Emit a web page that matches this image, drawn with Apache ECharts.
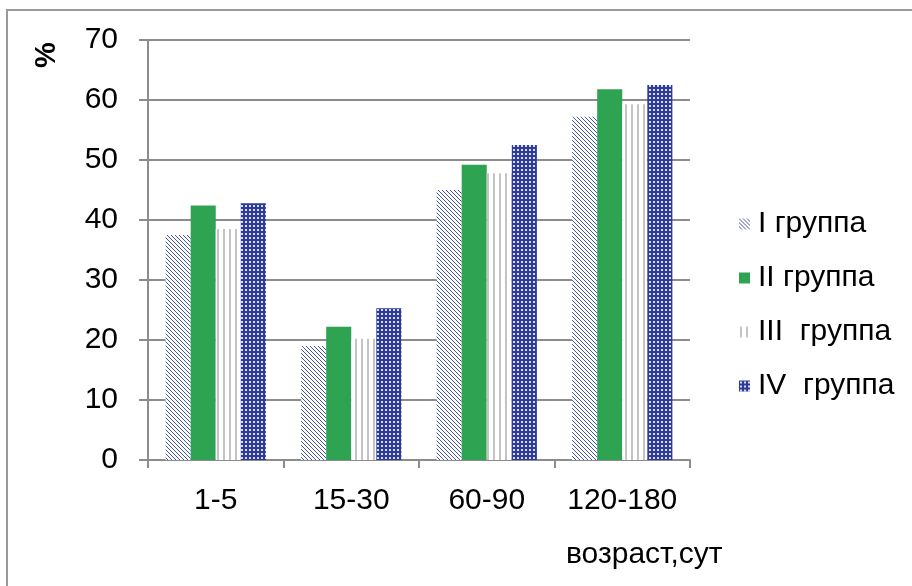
<!DOCTYPE html>
<html>
<head>
<meta charset="utf-8">
<script src="https://cdn.jsdelivr.net/npm/echarts@6/dist/echarts.min.js"></script>
<style>
  html, body { margin: 0; padding: 0; background: #fff; }
  #frame { position: absolute; left: 6px; top: 9px; width: 920px; height: 600px; border: 2px solid #9a9a9a; }
  #myChart { position: absolute; left: 0; top: 0; width: 912px; height: 586px; }
</style>
</head>
<body>
<div id="frame"></div>
<div id="myChart"></div>
<script>
// возраст, сут
const categories = ['1-5', '15-30', '60-90', '120-180']
const groupNames = ['I группа', 'II группа', 'III  группа', 'IV  группа']
const group1 = [37.5, 19.0, 45.0, 57.2]
const group2 = [42.4, 22.2, 49.2, 61.8]
const group3 = [38.5, 20.2, 47.8, 59.3]
const group4 = [42.8, 25.3, 52.5, 62.5]
const yTicks = [0, 10, 20, 30, 40, 50, 60, 70]
const xTitle = 'возраст,сут'
const yTitle = '%'

// узоры заливки
function hatchPattern () {
  const c = document.createElement('canvas')
  c.width = 4; c.height = 4
  const g = c.getContext('2d')
  g.fillStyle = '#fff'; g.fillRect(0, 0, 4, 4)
  g.fillStyle = '#4555ad'
  for (let i = 0; i < 4; i++) g.fillRect(i, i, 1, 1)
  return { image: c, repeat: 'repeat' }
}
function stripePattern () {
  const c = document.createElement('canvas')
  c.width = 6; c.height = 6
  const g = c.getContext('2d')
  g.fillStyle = '#fff'; g.fillRect(0, 0, 6, 6)
  g.fillStyle = '#c4c4c4'; g.fillRect(1, 0, 2, 6)
  return { image: c, repeat: 'repeat' }
}
function dotPattern () {
  const c = document.createElement('canvas')
  c.width = 4; c.height = 4
  const g = c.getContext('2d')
  g.fillStyle = '#2d3a9a'; g.fillRect(0, 0, 4, 4)
  g.fillStyle = '#d8dcf0'; g.fillRect(1, 1, 2, 2)
  return { image: c, repeat: 'repeat' }
}

const fills = [hatchPattern(), '#2ea452', stripePattern(), dotPattern()]
const seriesData = [group1, group2, group3, group4]

const font = 'Liberation Sans, Arial, sans-serif'
const chart = echarts.init(document.getElementById('myChart'))
chart.setOption({
  animation: false,
  grid: { left: 148, right: 222, top: 40, bottom: 126 },
  legend: {
    orient: 'vertical',
    left: 734,
    top: 204,
    itemWidth: 11,
    itemHeight: 11,
    itemGap: 24,
    icon: 'rect',
    textStyle: { fontFamily: font, fontSize: 30, color: '#000', padding: [0, 0, 0, 3] },
    data: groupNames
  },
  graphic: [
    {
      type: 'text',
      left: 566,
      top: 540,
      style: { text: xTitle, fontFamily: font, fontSize: 30, fill: '#000' }
    },
    {
      type: 'text',
      x: 47,
      y: 55,
      rotation: Math.PI / 2,
      style: { text: yTitle, fontFamily: font, fontSize: 29, fontWeight: 'bold', fill: '#000', align: 'center', verticalAlign: 'middle' }
    }
  ],
  xAxis: {
    type: 'category',
    data: categories,
    axisLine: { lineStyle: { color: '#8c8c8c', width: 2 } },
    axisTick: { show: true, interval: 0, length: 8, lineStyle: { color: '#8c8c8c', width: 2 } },
    axisLabel: { interval: 0, fontFamily: font, fontSize: 30, color: '#000', margin: 26 }
  },
  yAxis: {
    type: 'value',
    min: 0,
    max: 70,
    interval: 10,
    axisLine: { show: true, lineStyle: { color: '#8c8c8c', width: 2 } },
    axisTick: { show: true, length: 9, lineStyle: { color: '#8c8c8c', width: 2 } },
    splitLine: { lineStyle: { color: '#8c8c8c', width: 2 } },
    axisLabel: {
      fontFamily: font, fontSize: 30, color: '#000', margin: 30,
      formatter: v => (yTicks.indexOf(v) >= 0 ? String(v) : '')
    }
  },
  series: seriesData.map((d, i) => ({
    name: groupNames[i],
    type: 'bar',
    data: d,
    barGap: '0%',
    barCategoryGap: '26%',
    itemStyle: { color: fills[i] }
  }))
})
</script>
</body>
</html>
